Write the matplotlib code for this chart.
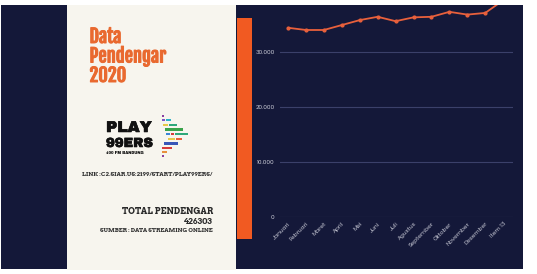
import matplotlib
matplotlib.use("Agg")
import matplotlib.pyplot as plt
import matplotlib.patheffects as pe
from matplotlib.patches import Rectangle
from matplotlib.ticker import FuncFormatter

months = ["Januari", "Februari", "Maret", "April", "Mei", "Juni", "Juli",
          "Agustus", "September", "Oktober", "November", "Desember", "Item 13"]
listeners = [34400, 34000, 34000, 34900, 35800, 36400, 35600, 36300, 36400,
             37300, 36800, 37100, 39400]
yticks = [0, 10000, 20000, 30000]

title_lines = "Data\nPendengar\n2020"
link_text = "LINK :C2.SIAR.US:2199/START/PLAY99ERS/"
total_label = "TOTAL PENDENGAR"
total_value = "426303"
source_text = "SUMBER : DATA STREAMING ONLINE"

W, H = 537, 274
NAVY = "#141839"
CREAM = "#f7f5ee"
ORANGE = "#f15a22"
TITLE_OR = "#e9692f"
LINE_OR = "#e8603c"

TITLE_FONT = ["Fjalla One", "Oswald", "DejaVu Sans"]
LOGO_FONT = ["Archivo Black", "Montserrat", "DejaVu Sans"]
SLAB_FONT = ["Arvo", "Roboto Slab", "DejaVu Serif"]
AXIS_FONT = ["Poppins", "Montserrat", "DejaVu Sans"]

fig = plt.figure(figsize=(W / 100, H / 100), dpi=100)
fig.patch.set_facecolor("white")


def fx(x):
    return x / W


def fy(y):
    return 1 - y / H


def rect(x0, y0, x1, y1, color, z=0):
    fig.patches.append(Rectangle((fx(x0), fy(y1)), fx(x1) - fx(x0), fy(y0) - fy(y1),
                                 transform=fig.transFigure, facecolor=color,
                                 edgecolor="none", zorder=z))


rect(1, 5, 523, 269, NAVY, 0)
rect(67, 5, 236, 270, CREAM, 1)
rect(237, 18, 252, 239, ORANGE, 1)

# Title
for i, line in enumerate(title_lines.split("\n")):
    t = fig.text(fx(89.5), fy(43 + i * 19.5), line, color=TITLE_OR, fontsize=13.3,
                 fontweight="bold", family=TITLE_FONT, va="baseline", ha="left", zorder=3)
    t.set_path_effects([pe.withStroke(linewidth=0.7, foreground=TITLE_OR)])

# Logo text
logo_fx = [pe.withStroke(linewidth=0.4, foreground="#111111")]
fig.text(fx(106), fy(132), "PLAY", fontsize=11.2, fontweight="heavy",
         family=LOGO_FONT, color="#111111", va="baseline", ha="left", zorder=3,
         path_effects=logo_fx)
fig.text(fx(106), fy(147), "99ERS", fontsize=9.5, fontweight="heavy",
         family=LOGO_FONT, color="#111111", va="baseline", ha="left", zorder=3,
         path_effects=logo_fx)
fig.text(fx(106), fy(154), "100 FM BANDUNG", fontsize=2.8, fontweight="bold",
         family=LOGO_FONT, color="#111111", va="baseline", ha="left", zorder=3)

# Logo bars (decoration)
bars = [
    (162, 115, 164, 117, "#8b3fa0"),
    (162, 119, 165, 121, "#7b55c8"), (166, 119, 171, 121, "#2bb3c8"),
    (163, 124, 168, 126, "#e6c84a"), (169, 124, 177, 126, "#2fa87a"),
    (165, 128, 183, 131, "#3aa34a"),
    (166, 133, 170, 135, "#3b86d6"), (171, 133, 174, 135, "#d63b3b"), (175, 133, 188, 135, "#2fa87a"),
    (168, 138, 175, 140, "#e6c84a"), (176, 138, 182, 140, "#e8603c"),
    (164, 142, 178, 145, "#3a57b8"),
    (162, 147, 172, 149, "#d63b3b"),
    (162, 151, 167, 153, "#e8903c"),
    (162, 155, 164, 157, "#8b3fa0"),
]
for x0, y0, x1, y1, c in bars:
    rect(x0, y0, x1, y1, c, 2)

fig.text(fx(82), fy(175), link_text, fontsize=4.3, fontweight="bold",
         family=SLAB_FONT, color="#333333", va="center", ha="left", zorder=3)
fig.text(fx(213), fy(212), total_label, fontsize=6.3, fontweight="bold",
         family=SLAB_FONT, color="#2a2a2a", va="center", ha="right", zorder=3)
fig.text(fx(213), fy(222), total_value, fontsize=6.0, fontweight="bold",
         family=SLAB_FONT, color="#2a2a2a", va="center", ha="right", zorder=3)
fig.text(fx(213), fy(230), source_text, fontsize=4.2, fontweight="bold",
         family=SLAB_FONT, color="#333333", va="center", ha="right", zorder=3)

# Chart
ax = fig.add_axes([fx(280), fy(217), fx(513) - fx(280), fy(5) - fy(217)])
ax.set_zorder(4)
ax.patch.set_alpha(0)
x = list(range(len(months)))
ax.plot(x, listeners, color=LINE_OR, lw=1.3, marker="o", markersize=2.0,
        solid_capstyle="round", zorder=3)
ax.set_ylim(0, 38545)
ax.set_xlim(-0.45, 12.55)
ax.set_yticks(yticks)
ax.yaxis.set_major_formatter(FuncFormatter(lambda v, p: f"{int(v):,}".replace(",", ".")))
ax.set_xticks(x)
ax.set_xticklabels(months, rotation=45, ha="right", rotation_mode="anchor")
ax.tick_params(axis="both", length=0, colors="#c9cad6", labelsize=4.2)
ax.tick_params(axis="y", pad=4)
ax.tick_params(axis="x", pad=3)
for lab in ax.get_xticklabels() + ax.get_yticklabels():
    lab.set_family(AXIS_FONT)
ax.grid(axis="y", color="#3b406a", lw=0.8)
ax.set_axisbelow(True)
for s in ax.spines.values():
    s.set_visible(False)

fig.savefig("out.png", dpi=100, facecolor=fig.get_facecolor())
